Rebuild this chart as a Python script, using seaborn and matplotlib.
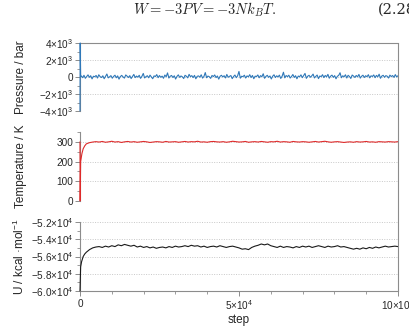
import numpy as np
import pandas as pd
import matplotlib
matplotlib.use("Agg")
import matplotlib.pyplot as plt
from matplotlib.ticker import MultipleLocator
from matplotlib.lines import Line2D
import seaborn as sns

# ---------------- data ----------------
pressure_initial_steps = [0, 60, 200]
pressure_initial = [-4000, 4000, 100]
pressure_values = [120, -80, 200, -150, 60, 250, -40, 150, -220, 90, 30, 180,
                   -120, 260, 40, -60, 140, -200, 80, 350, -100, 20, 160, -140,
                   70, 210, -90, 130, -250, 50, 190, 10, -130, 240, 100, -60,
                   160, -180, 60, 300, -70, 110, -20, 200, -160, 80, 420, -110,
                   40, 150, -90, 220, 0, -200, 130, 60, 280, -80, 170, -30,
                   100, -150, 230, 30, 480, -120, 90, 180, -60, 140, -240, 70,
                   250, -40, 120, 20, -180, 200, 90, -100, 310, 40, 160, -70,
                   190, -210, 80, 130, -20, 260, -130, 60, 520, -90, 110, 30,
                   -160, 180, 50, 240, -70, 120, -250, 90, 200, 10, 150, -110,
                   300, -30, 80, 170, -190, 60, 230, -80, 140, 650, -140, 90,
                   40, 210, -120, 130, 20, 270, -60, 180, -200, 100, 50, 240,
                   -90, 160, 30, 380, -150, 70, 200, -40, 120, -230, 90, 260,
                   -60, 140, 10, 220, -170, 80, 560, -100, 170, 40, 210, -120,
                   60, 290, -50, 150, -210, 110, 30, 250, -80, 180, 420, -160,
                   90, 200, -30, 130, 340, -110, 70, 230, -190, 120, 40, 270,
                   -70, 180, 20, 310, -140, 100, 220, -40, 160, -210, 80, 190,
                   500, -90, 140, 30, 260, -120, 200, 60, -170, 230, 110, -50,
                   180, 20, 300, -130, 90, 210, -60, 150, 30, 270, -100, 140,
                   60, 240, -80, 190, 20, 330, -150, 110, 200, -30, 160, 90,
                   -120, 220, 50, 170, -40, 280, 10, 150]

temp_initial_steps = [0, 50, 200, 600, 1000, 1500, 2000, 3000, 4000]
temp_initial = [300, 0, 200, 240, 265, 280, 290, 296, 299]
temp_values = [301, 299, 302, 298, 300, 303, 299, 301, 297, 300, 302, 299, 301, 298, 300, 302,
               300, 297, 299, 301, 300, 298, 302, 299, 300, 301, 298, 300, 302, 299, 301, 300,
               303, 299, 300, 298, 301, 302, 300, 299, 301, 298, 300, 303, 301, 299, 300, 302,
               298, 300, 301, 299, 302, 300, 298, 301, 300, 303, 299, 301, 300, 298, 302, 300,
               299, 301, 300, 298, 300, 302, 299, 301, 303, 300, 298, 300, 301, 299, 297, 299,
               300, 298, 301, 299, 300, 302, 299, 300, 298, 301, 300, 299, 301, 300, 299, 301]

energy_initial_steps = [0, 200, 500, 1000, 1500, 2000, 3000, 4000, 5000]
energy_initial = [-60000, -57200, -56600, -56000, -55700, -55500, -55200, -55000, -54900]
energy_values = [-54850, -54950, -54800, -54900, -54750, -54850, -54650, -54750, -54600, -54700,
                 -54800, -54700, -54900, -54800, -54950, -54850, -55000, -54900, -55050, -54950,
                 -54900, -55000, -54850, -54950, -54800, -54900, -54850, -54750, -54850, -54700,
                 -54800, -54750, -54900, -54800, -54950, -54850, -54800, -54900, -54750, -54850,
                 -54950, -54850, -54800, -54900, -55000, -55150, -55100, -55200, -54950, -54800,
                 -54700, -54550, -54650, -54550, -54750, -54850, -54950, -54800, -54950, -54850,
                 -54900, -55000, -54850, -54950, -54800, -54900, -54800, -54950, -54850, -54750,
                 -54850, -54950, -54800, -54900, -54850, -54750, -54900, -54850, -54950, -55050,
                 -55150, -55050, -55150, -55000, -55100, -54950, -55050, -54900, -55000, -54900,
                 -54800, -54900, -54850, -54800, -54850]

x_ticks = [0, 50000, 100000]
x_ticklabels = ["0", "5×10$^{4}$", "10×10$^{4}$"]
p_ticks = [-4000, -2000, 0, 2000, 4000]
p_ticklabels = ["−4×10$^{3}$", "−2×10$^{3}$", "0", "2×10$^{3}$", "4×10$^{3}$"]
t_ticks = [0, 100, 200, 300]
u_ticks = [-60000, -58000, -56000, -54000, -52000]
u_ticklabels = ["−6.0×10$^{4}$", "−5.8×10$^{4}$", "−5.6×10$^{4}$", "−5.4×10$^{4}$", "−5.2×10$^{4}$"]

# ---------------- frames ----------------
p_steps = pressure_initial_steps + list(np.linspace(400, 100000, len(pressure_values)))
df_p = pd.DataFrame({"step": p_steps, "value": pressure_initial + pressure_values})
t_steps = temp_initial_steps + list(np.linspace(5000, 100000, len(temp_values)))
df_t = pd.DataFrame({"step": t_steps, "value": temp_initial + temp_values})
u_steps = energy_initial_steps + list(np.linspace(6000, 100000, len(energy_values)))
df_u = pd.DataFrame({"step": u_steps, "value": energy_initial + energy_values})

# ---------------- style ----------------
sns.set_style("white")
plt.rcParams["font.family"] = ["Liberation Sans", "DejaVu Sans"]
plt.rcParams["mathtext.fontset"] = "custom"
plt.rcParams["mathtext.rm"] = "Liberation Sans"
plt.rcParams["mathtext.it"] = "Liberation Sans:italic"
plt.rcParams["mathtext.bf"] = "Liberation Sans:bold"

W, H = 410, 326
fig = plt.figure(figsize=(W / 100, H / 100), dpi=100)

L, R = 80 / W, 398 / W
def box(top_px, bot_px):
    return [L, 1 - bot_px / H, R - L, (bot_px - top_px) / H]

ax1 = fig.add_axes(box(43, 111))
ax2 = fig.add_axes(box(132, 201))
ax3 = fig.add_axes(box(222, 291))

spine_col = "#8c8c8c"
grid_col = "#c8c8c8"
tick_fs = 7.2
lab_fs = 8.5

sns.lineplot(data=df_p, x="step", y="value", ax=ax1, color="#2f78b8", lw=0.8)
sns.lineplot(data=df_t, x="step", y="value", ax=ax2, color="#de2a2a", lw=0.8)
sns.lineplot(data=df_u, x="step", y="value", ax=ax3, color="#1a1a1a", lw=0.8)
for ax in (ax1, ax2, ax3):
    for ln in ax.get_lines():
        ln.set_clip_on(False)
        ln.set_zorder(4)

ax1.set_ylim(-4000, 4000)
ax2.set_ylim(0, 350)
ax3.set_ylim(-60000, -52000)

ax1.set_yticks(p_ticks)
ax1.set_yticklabels(p_ticklabels)
ax1.yaxis.set_minor_locator(MultipleLocator(1000))
ax2.set_yticks(t_ticks)
ax2.set_yticklabels([str(v) for v in t_ticks])
ax2.yaxis.set_minor_locator(MultipleLocator(50))
ax3.set_yticks(u_ticks)
ax3.set_yticklabels(u_ticklabels)
ax3.yaxis.set_minor_locator(MultipleLocator(1000))

for ax in (ax1, ax2, ax3):
    ax.set_xlim(0, 100000)
    ax.set_xlabel("")
    ax.grid(axis="y", which="major", color=grid_col, linestyle=(0, (1, 1.5)), lw=0.7)
    ax.set_axisbelow(True)
    for s in ax.spines.values():
        s.set_color(spine_col)
        s.set_linewidth(0.8)
    ax.spines["right"].set_visible(False)
    ax.tick_params(axis="y", which="major", direction="out", length=3.5, width=0.7,
                   color=spine_col, labelsize=tick_fs, pad=1.5, left=True)
    ax.tick_params(axis="y", which="minor", direction="out", length=2, width=0.6,
                   color=spine_col, left=True)

for ax in (ax1, ax2):
    ax.spines["bottom"].set_visible(False)
    ax.set_xticks([])
    ax.tick_params(axis="x", which="both", bottom=False, labelbottom=False)
ax2.spines["top"].set_visible(False)
ax3.spines["top"].set_visible(False)

ax3.set_xticks(x_ticks)
ax3.set_xticklabels(x_ticklabels)
ax3.xaxis.set_minor_locator(MultipleLocator(10000))
ax3.tick_params(axis="x", which="major", direction="out", length=3.5, width=0.7,
                color=spine_col, labelsize=tick_fs, pad=2, bottom=True)
ax3.tick_params(axis="x", which="minor", direction="out", length=2, width=0.6,
                color=spine_col, bottom=True)
ax3.set_xlabel("step", fontsize=lab_fs, labelpad=1)

ax1.set_ylabel("Pressure / bar", fontsize=lab_fs)
ax2.set_ylabel("Temperature / K", fontsize=lab_fs)
ax3.set_ylabel("U / kcal ·mol$^{-1}$", fontsize=lab_fs)
lx = (27 - 80) / 318
for ax in (ax1, ax2, ax3):
    ax.yaxis.set_label_coords(lx, 0.5)

# outer right frame line spanning all panels
fig.add_artist(Line2D([R, R], [1 - 291 / H, 1 - 43 / H], transform=fig.transFigure,
                      color=spine_col, lw=0.8))

# equation line above the chart
fig.text(0.5, 1 - 10 / H, r"$W = -3PV = -3Nk_BT.$", ha="center", va="center",
         fontsize=10.5, math_fontfamily="cm")
fig.text(378 / W, 1 - 10 / H, "(2.28)", ha="left", va="center", fontsize=10.5,
         family="DejaVu Serif")

fig.savefig("out.png", dpi=100)
